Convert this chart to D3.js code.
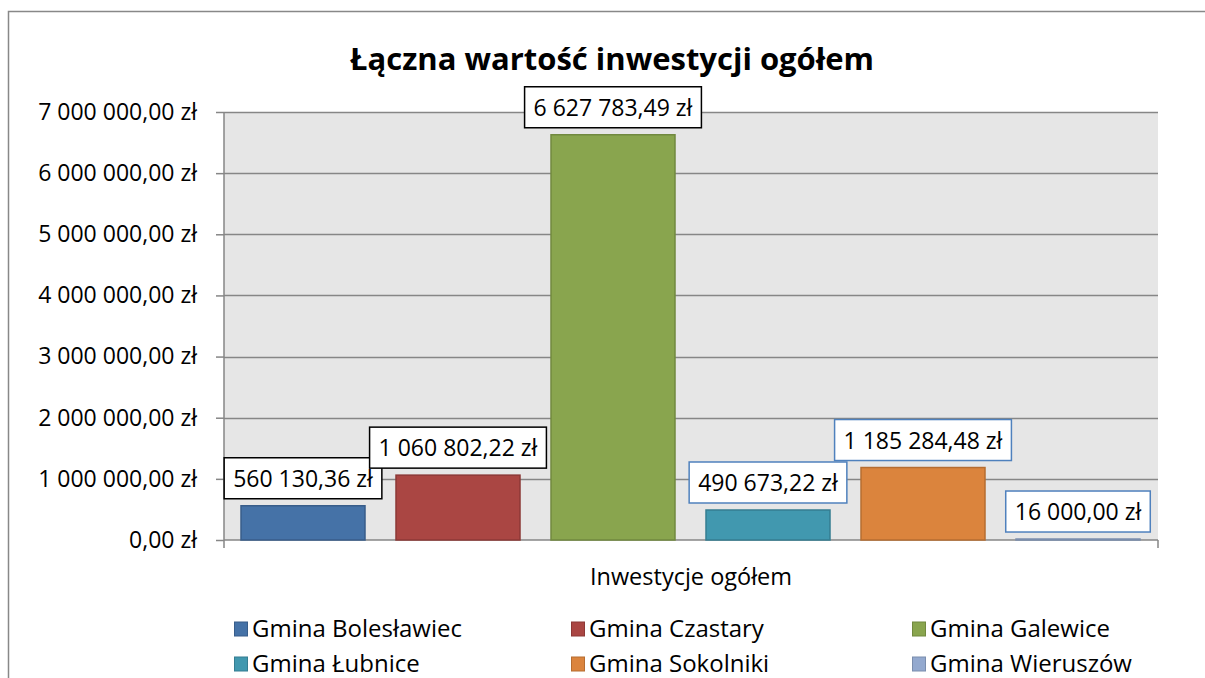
<!DOCTYPE html>
<html>
<head>
<meta charset="utf-8">
<script src="https://cdn.jsdelivr.net/npm/d3@7"></script>
<style>
  body { margin: 0; background: #fff; }
  svg { display: block; font-family: "Open Sans", "Noto Sans", sans-serif; }
</style>
</head>
<body>
<svg id="chart" width="1205" height="678"></svg>
<script>
// data
const category = "Inwestycje ogółem";
const gminy = ["Gmina Bolesławiec", "Gmina Czastary", "Gmina Galewice",
               "Gmina Łubnice", "Gmina Sokolniki", "Gmina Wieruszów"];
const values = [560130.36, 1060802.22, 6627783.49, 490673.22, 1185284.48, 16000.00];
const yTicks = [0, 1000000, 2000000, 3000000, 4000000, 5000000, 6000000, 7000000];

const fills   = ["#4572A7", "#AA4643", "#89A54E", "#4198AF", "#DB843D", "#93A9CF"];
const strokes = ["#385D8A", "#8C3836", "#71893F", "#357D91", "#B66D31", "#7A8DAD"];
const labelBorder = ["#000", "#000", "#000", "#4F81BD", "#4F81BD", "#4F81BD"];

const pl = d3.formatLocale({decimal: ",", thousands: " ", grouping: [3], currency: ["", " zł"]});
const money = pl.format("$,.2f");

const svg = d3.select("#chart");
const plot = {left: 224, right: 1158, top: 112, bottom: 540};

// outer chart frame (cut by the window on the right/bottom)
svg.append("rect")
  .attr("x", 8.5).attr("y", 11.5)
  .attr("width", 1400).attr("height", 1000)
  .attr("fill", "#fff").attr("stroke", "#888").attr("stroke-width", 1.5);

const y = d3.scaleLinear().domain([0, 7000000]).range([plot.bottom, plot.top]);
const x0 = d3.scaleBand().domain([category]).range([plot.left, plot.right]);
const x1 = d3.scaleBand().domain(gminy)
  .range([x0(category) + 17, x0(category) + x0.bandwidth() - 18])
  .paddingInner(0.2).paddingOuter(0);

// plot background
svg.append("rect")
  .attr("x", plot.left).attr("y", plot.top)
  .attr("width", plot.right - plot.left).attr("height", plot.bottom - plot.top)
  .attr("fill", "#E6E6E6");

// gridlines
svg.append("g")
  .selectAll("line")
  .data(yTicks.filter(d => d > 0))
  .join("line")
    .attr("x1", plot.left).attr("x2", plot.right)
    .attr("y1", d => Math.round(y(d)) + 0.5).attr("y2", d => Math.round(y(d)) + 0.5)
    .attr("stroke", "#868686").attr("stroke-width", 1.5);

// y axis
const yAxis = svg.append("g")
  .attr("transform", `translate(${plot.left},0)`)
  .call(d3.axisLeft(y).tickValues(yTicks).tickFormat(money).tickSizeOuter(0).tickSize(8).tickPadding(19));
yAxis.select(".domain").remove();
yAxis.selectAll(".tick line").attr("stroke", "#868686").attr("stroke-width", 1.5);
yAxis.selectAll(".tick text")
  .attr("font-size", 23).attr("fill", "#000")
  .attr("font-family", "Open Sans");
yAxis.append("line")
  .attr("x1", 0).attr("x2", 0).attr("y1", plot.top).attr("y2", plot.bottom + 8)
  .attr("stroke", "#868686").attr("stroke-width", 1.5);

// x axis line + category boundary ticks
const xAxis = svg.append("g");
xAxis.append("line")
  .attr("x1", plot.left).attr("x2", plot.right)
  .attr("y1", plot.bottom).attr("y2", plot.bottom)
  .attr("stroke", "#868686").attr("stroke-width", 1.5);
xAxis.append("line")
  .attr("x1", plot.right).attr("x2", plot.right)
  .attr("y1", plot.bottom).attr("y2", plot.bottom + 8)
  .attr("stroke", "#868686").attr("stroke-width", 1.5);
xAxis.append("text")
  .attr("x", x0(category) + x0.bandwidth() / 2).attr("y", 585)
  .attr("text-anchor", "middle").attr("font-size", 23.5)
  .text(category);

// bars
svg.append("g")
  .selectAll("rect")
  .data(gminy)
  .join("rect")
    .attr("x", d => x1(d))
    .attr("y", (d, i) => y(values[i]))
    .attr("width", x1.bandwidth())
    .attr("height", (d, i) => y(0) - y(values[i]))
    .attr("fill", (d, i) => fills[i])
    .attr("stroke", (d, i) => strokes[i])
    .attr("stroke-width", 1.5);

// data labels with boxes
const lab = svg.append("g")
  .selectAll("g")
  .data(gminy)
  .join("g")
    .attr("transform", (d, i) => `translate(${x1(d) + x1.bandwidth() / 2},${y(values[i]) - 7})`);
lab.append("text")
  .attr("text-anchor", "middle")
  .attr("y", -12)
  .attr("font-size", 23)
  .text((d, i) => money(values[i]));
lab.each(function(d, i) {
  const g = d3.select(this);
  const w = g.select("text").node().getComputedTextLength() + 18;
  g.insert("rect", "text")
    .attr("x", -w / 2).attr("y", -41)
    .attr("width", w).attr("height", 41)
    .attr("fill", "#fff")
    .attr("stroke", labelBorder[i]).attr("stroke-width", 1.5);
});

// title
svg.append("text")
  .attr("x", 612).attr("y", 70)
  .attr("text-anchor", "middle")
  .attr("font-size", 31).attr("font-weight", "bold")
  .text("Łączna wartość inwestycji ogółem");

// legend
const legX = [234, 571, 912];
const legY = [629, 664];
const leg = svg.append("g")
  .selectAll("g")
  .data(gminy)
  .join("g")
    .attr("transform", (d, i) => `translate(${legX[i % 3]},${legY[Math.floor(i / 3)]})`);
leg.append("rect")
  .attr("x", 0.5).attr("y", -7)
  .attr("width", 13).attr("height", 14)
  .attr("fill", (d, i) => fills[i])
  .attr("stroke", (d, i) => strokes[i]).attr("stroke-width", 1);
leg.append("text")
  .attr("x", 18).attr("y", 8)
  .attr("font-size", 24)
  .text(d => d);
</script>
</body>
</html>
